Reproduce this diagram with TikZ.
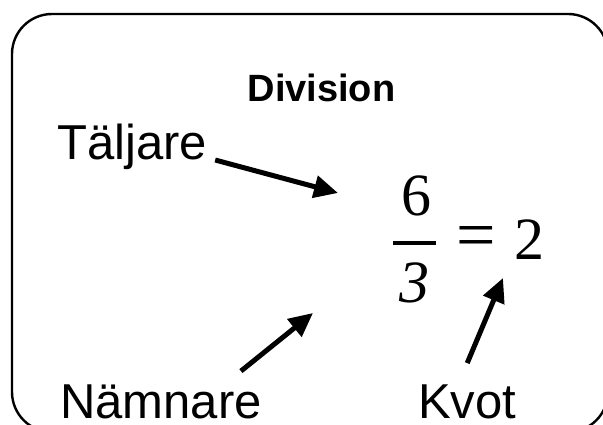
\documentclass[tikz,border=0pt]{standalone}
\usepackage{fontspec}
\setmainfont{Liberation Sans}
\newfontfamily\timesfont{Liberation Serif}
\usetikzlibrary{arrows.meta}
\tikzset{
	ord/.style={font=\fontsize{49}{58}\selectfont, inner sep=0pt, anchor=base west},
	siffra/.style={font=\timesfont\fontsize{60}{70}\selectfont, inner sep=0pt, anchor=base},
	pil/.style={line width=5pt, -{Triangle[length=24pt,width=22pt]}}
}

\begin{document}
\begin{tikzpicture}[x=1pt,y=-1pt]
		%%%%% START %%%%%
		
		\useasboundingbox (0,0) rectangle (603,425);
		\draw[line width=2.4pt, rounded corners=40pt] (12,14) rectangle (608,432);
		
		\node[font=\bfseries\fontsize{38}{46}\selectfont, inner sep=0pt, anchor=base] (rubrik) at (321.5,102) {Division};
		\node[ord] (tal) at (57,160) {Täljare};
		\node[ord] (nam) at (60,418) {Nämnare};
		\node[ord] (kvot) at (418,418) {Kvot};
		
		\node[siffra] (sex) at (416,215) {6};
		\draw[line width=4pt] (393,243) -- (436,243);
		\node[siffra] (tre) at (414,302) {\itshape 3};
		\node[siffra, font=\timesfont\fontsize{70}{80}\selectfont, anchor=center] (lika) at (476.5,242.5) {=};
		\node[siffra] (tva) at (529,259) {2};
		
		\coordinate (sexpil) at (338,193);
		\coordinate (trepil) at (313,313);
		\coordinate (tvapil) at (503,278);
		
		\draw[pil] ([xshift=8pt]tal.base east) -- (sexpil);
		\draw[pil] ([xshift=-21pt,yshift=13pt]nam.north east) -- (trepil);
		\draw[pil] ([yshift=21pt]kvot.north) -- (tvapil);
		
		%%%%% END %%%%%
\end{tikzpicture}
\end{document}
